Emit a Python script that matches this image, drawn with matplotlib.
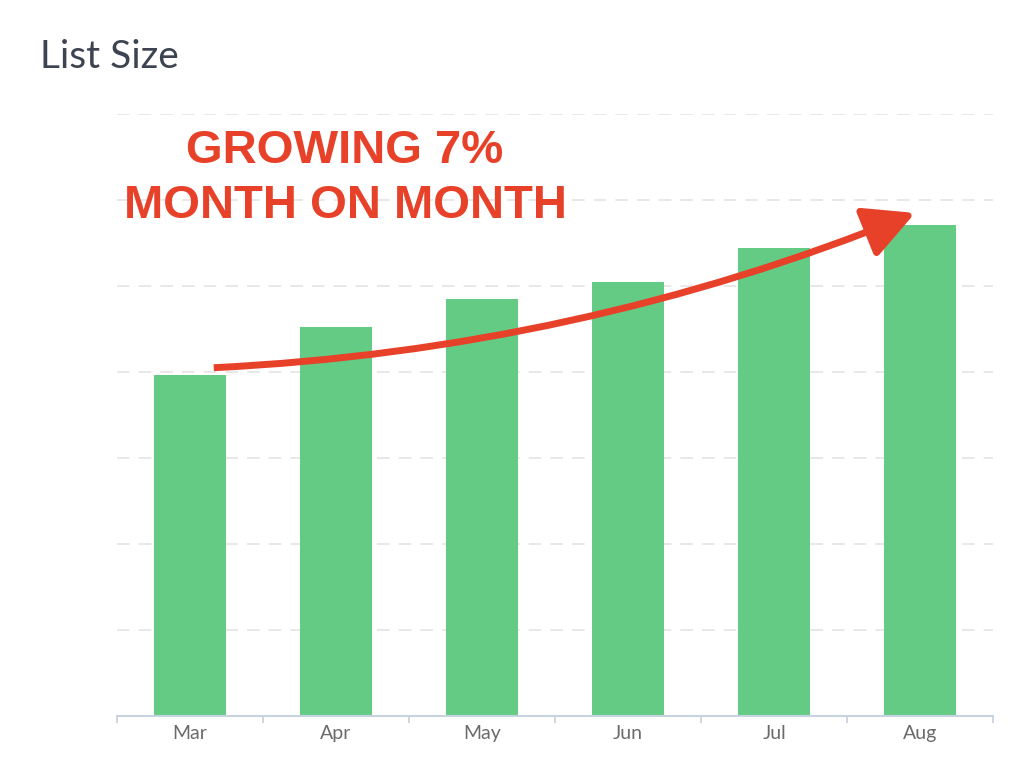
import matplotlib
matplotlib.use('Agg')

import matplotlib.pyplot as plt
from matplotlib.ticker import FixedLocator, MultipleLocator

# Data (grid units, no y labels shown)
months = ['Mar', 'Apr', 'May', 'Jun', 'Jul', 'Aug']
list_size = [3.96, 4.52, 4.85, 5.05, 5.44, 5.71]

bar_color = '#64cb84'
arrow_color = '#e8412a'
axis_color = '#c8d3e0'

fig = plt.figure(figsize=(10.24, 7.81), dpi=100)
ax = fig.add_axes([0.114, 0.0832, 0.856, 0.7708])

x = list(range(len(months)))
ax.bar(x, list_size, width=0.49, color=bar_color, zorder=2)

ax.set_xlim(-0.5, len(months) - 0.5)
ax.set_ylim(0, 7)

# horizontal dashed grid
ax.yaxis.set_major_locator(MultipleLocator(1))
ax.grid(axis='y', color='#e6e6e6', linewidth=1.3, linestyle=(0, (7, 5)), zorder=0)
ax.tick_params(axis='y', left=False, labelleft=False)

# ticks at category boundaries, labels at centres
ax.xaxis.set_major_locator(FixedLocator([i - 0.5 for i in range(len(months) + 1)]))
ax.xaxis.set_minor_locator(FixedLocator(x))
ax.set_xticklabels([], minor=False)
ax.set_xticklabels(months, minor=True)
ax.tick_params(axis='x', which='major', length=5, width=1.3, color=axis_color)
ax.tick_params(axis='x', which='minor', length=0, pad=6.5, labelsize=14, labelcolor='#6b6b6b')
for lbl in ax.get_xticklabels(minor=True):
    lbl.set_fontfamily('Lato')

for side in ['top', 'right', 'left']:
    ax.spines[side].set_visible(False)
ax.spines['bottom'].set_color(axis_color)
ax.spines['bottom'].set_linewidth(1.5)

# growth arrow
ax.annotate('', xy=(4.965, 5.85), xytext=(0.164, 4.05),
            arrowprops=dict(arrowstyle='-|>,head_length=31,head_width=16',
                            mutation_scale=1, color=arrow_color, lw=5,
                            shrinkA=0, shrinkB=0, capstyle='butt',
                            connectionstyle='arc3,rad=0.085'),
            zorder=4)

fig.text(0.337, 0.7913, 'GROWING 7%', ha='center', va='baseline',
         fontsize=34, fontweight='bold', color=arrow_color, family='Liberation Sans')
fig.text(0.337, 0.7209, 'MONTH ON MONTH', ha='center', va='baseline',
         fontsize=34, fontweight='bold', color=arrow_color, family='Liberation Sans')

fig.text(0.039, 0.913, 'List Size', ha='left', va='baseline',
         fontsize=28, color='#3d4451', family='Lato')

fig.savefig('out.png', dpi=100)
